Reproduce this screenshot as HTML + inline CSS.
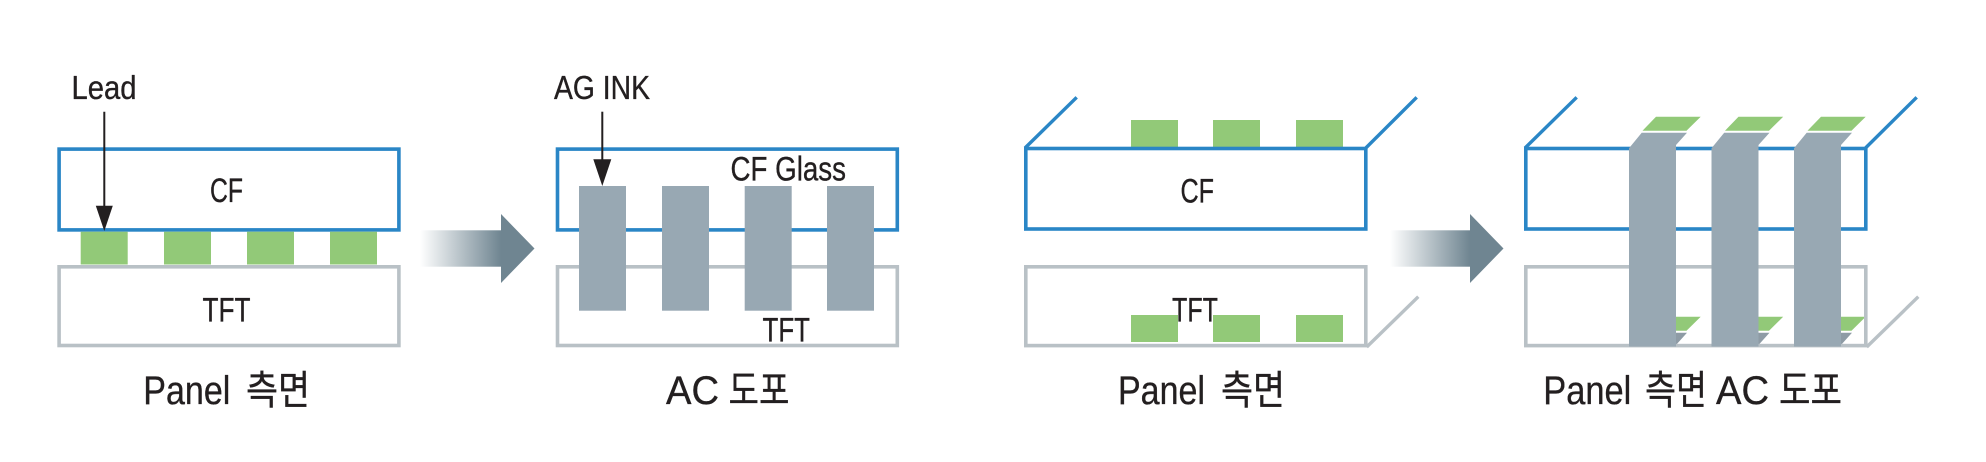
<!DOCTYPE html>
<html>
<head>
<meta charset="utf-8">
<style>
  html,body{margin:0;padding:0;background:#fff;}
  svg{display:block;}
  text{font-family:"Liberation Sans","Noto Sans CJK KR",sans-serif;fill:#231f20;stroke:#231f20;stroke-width:0.35;}
</style>
</head>
<body>
<svg width="1986" height="462" viewBox="0 0 1986 462" xmlns="http://www.w3.org/2000/svg">
  <defs>
    <linearGradient id="g1" x1="420" y1="0" x2="501" y2="0" gradientUnits="userSpaceOnUse">
      <stop offset="0" stop-color="#ffffff"/>
      <stop offset="1" stop-color="#6f8591"/>
    </linearGradient>
    <linearGradient id="g2" x1="1390" y1="0" x2="1470" y2="0" gradientUnits="userSpaceOnUse">
      <stop offset="0" stop-color="#ffffff"/>
      <stop offset="1" stop-color="#6f8591"/>
    </linearGradient>
  </defs>
  <rect width="1986" height="462" fill="#fff"/>

  <!-- ================= PANEL 1 ================= -->
  <rect x="59.1" y="149.1" width="339.8" height="80.8" fill="none" stroke="#2a86c6" stroke-width="3.6"/>
  <rect x="59.1" y="266.8" width="339.8" height="78.7" fill="none" stroke="#b9c1c6" stroke-width="3.6"/>
  <rect x="80.7" y="231.7" width="47" height="32.8" fill="#92c978"/>
  <rect x="164" y="231.7" width="47" height="32.8" fill="#92c978"/>
  <rect x="247" y="231.7" width="47" height="32.8" fill="#92c978"/>
  <rect x="330" y="231.7" width="47" height="32.8" fill="#92c978"/>
  <text x="210" y="202" font-size="34" textLength="33" lengthAdjust="spacingAndGlyphs">CF</text>
  <text x="202.5" y="321.7" font-size="34" textLength="48" lengthAdjust="spacingAndGlyphs">TFT</text>
  <text x="71.5" y="99" font-size="33" textLength="65" lengthAdjust="spacingAndGlyphs">Lead</text>
  <line x1="104.3" y1="111.7" x2="104.3" y2="207" stroke="#231f20" stroke-width="2"/>
  <polygon points="95.8,205.7 112.8,205.7 104.3,231" fill="#231f20"/>
  <text x="143.3" y="404" font-size="40" textLength="87" lengthAdjust="spacingAndGlyphs">Panel</text>
  <text x="246" y="404" font-size="40" textLength="64" lengthAdjust="spacingAndGlyphs">측면</text>

  <!-- Arrow 1 -->
  <rect x="420" y="230.3" width="81.5" height="36.4" fill="url(#g1)"/>
  <polygon points="501,214 534.5,248.5 501,283" fill="#6f8591"/>

  <!-- ================= PANEL 2 ================= -->
  <rect x="557.5" y="149.1" width="339.8" height="80.8" fill="none" stroke="#2a86c6" stroke-width="3.6"/>
  <rect x="557.5" y="266.8" width="339.8" height="78.7" fill="none" stroke="#b9c1c6" stroke-width="3.6"/>
  <rect x="579" y="186" width="47" height="124.7" fill="#98a8b3"/>
  <rect x="662" y="186" width="47" height="124.7" fill="#98a8b3"/>
  <rect x="744.7" y="186" width="47" height="124.7" fill="#98a8b3"/>
  <rect x="827" y="186" width="47" height="124.7" fill="#98a8b3"/>
  <text x="730.5" y="180.7" font-size="34" textLength="115.5" lengthAdjust="spacingAndGlyphs">CF Glass</text>
  <text x="762.5" y="341.7" font-size="34" textLength="47.5" lengthAdjust="spacingAndGlyphs">TFT</text>
  <text x="554" y="99" font-size="33" textLength="96" lengthAdjust="spacingAndGlyphs">AG INK</text>
  <line x1="602.3" y1="111.7" x2="602.3" y2="161" stroke="#231f20" stroke-width="2"/>
  <polygon points="593.3,159.3 611.3,159.3 602.3,186" fill="#231f20"/>
  <text x="666" y="404" font-size="40" textLength="53" lengthAdjust="spacingAndGlyphs">AC</text>
  <text x="728.5" y="404" font-size="40" textLength="61" lengthAdjust="spacingAndGlyphs">도포</text>

  <!-- ================= PANEL 3 ================= -->
  <line x1="1025" y1="148" x2="1076.7" y2="97.3" stroke="#2a86c6" stroke-width="3.4"/>
  <line x1="1365.8" y1="148" x2="1416.7" y2="97.3" stroke="#2a86c6" stroke-width="3.4"/>
  <line x1="1366.7" y1="347" x2="1418.3" y2="296.7" stroke="#b9c1c6" stroke-width="3.4"/>
  <rect x="1131" y="120" width="47" height="27" fill="#92c978"/>
  <rect x="1213" y="120" width="47" height="27" fill="#92c978"/>
  <rect x="1296" y="120" width="47" height="27" fill="#92c978"/>
  <rect x="1131" y="315" width="47" height="27" fill="#92c978"/>
  <rect x="1213" y="315" width="47" height="27" fill="#92c978"/>
  <rect x="1296" y="315" width="47" height="27" fill="#92c978"/>
  <rect x="1025.8" y="148.5" width="340" height="80.5" fill="none" stroke="#2a86c6" stroke-width="3.6"/>
  <rect x="1025.8" y="266.8" width="340" height="78.8" fill="none" stroke="#b9c1c6" stroke-width="3.6"/>
  <text x="1180.5" y="202.5" font-size="34" textLength="33.5" lengthAdjust="spacingAndGlyphs">CF</text>
  <text x="1172" y="321.7" font-size="34" textLength="46" lengthAdjust="spacingAndGlyphs">TFT</text>
  <text x="1118" y="404" font-size="40" textLength="87" lengthAdjust="spacingAndGlyphs">Panel</text>
  <text x="1221" y="404" font-size="40" textLength="64" lengthAdjust="spacingAndGlyphs">측면</text>

  <!-- Arrow 2 -->
  <rect x="1390" y="230.3" width="80.5" height="36.4" fill="url(#g2)"/>
  <polygon points="1470,214 1503.5,248.5 1470,283" fill="#6f8591"/>

  <!-- ================= PANEL 4 ================= -->
  <line x1="1525" y1="148" x2="1576.7" y2="97.3" stroke="#2a86c6" stroke-width="3.4"/>
  <line x1="1865.5" y1="148" x2="1916.7" y2="97.3" stroke="#2a86c6" stroke-width="3.4"/>
  <line x1="1866.7" y1="347" x2="1918.3" y2="296.7" stroke="#b9c1c6" stroke-width="3.4"/>
  <!-- bottom green back pads -->
  <polygon points="1656,316.7 1700.7,316.7 1686.5,330.7 1642.5,330.7" fill="#92c978"/>
  <polygon points="1738.5,316.7 1783.2,316.7 1769,330.7 1725,330.7" fill="#92c978"/>
  <polygon points="1821,316.7 1865.7,316.7 1851.5,330.7 1807.5,330.7" fill="#92c978"/>
  <!-- bottom gray back triangles -->
  <polygon points="1676,332.7 1687,332.7 1676,345" fill="#8e9ba5"/>
  <polygon points="1758.5,332.7 1769.5,332.7 1758.5,345" fill="#8e9ba5"/>
  <polygon points="1841,332.7 1852,332.7 1841,345" fill="#8e9ba5"/>
  <!-- boxes -->
  <rect x="1525.8" y="148.5" width="340" height="80.5" fill="none" stroke="#2a86c6" stroke-width="3.6"/>
  <rect x="1525.8" y="266.8" width="340" height="78.8" fill="none" stroke="#b9c1c6" stroke-width="3.6"/>
  <!-- top green pads -->
  <polygon points="1656,116.7 1700.7,116.7 1686.5,130.7 1642.5,130.7" fill="#92c978"/>
  <polygon points="1738.5,116.7 1783.2,116.7 1769,130.7 1725,130.7" fill="#92c978"/>
  <polygon points="1821,116.7 1865.7,116.7 1851.5,130.7 1807.5,130.7" fill="#92c978"/>
  <!-- bars -->
  <polygon points="1641.7,132.7 1687,132.7 1676,145 1676,346.5 1629,346.5 1629,148.3" fill="#98a8b3"/>
  <polygon points="1724.2,132.7 1769.5,132.7 1758.5,145 1758.5,346.5 1711.5,346.5 1711.5,148.3" fill="#98a8b3"/>
  <polygon points="1806.7,132.7 1852,132.7 1841,145 1841,346.5 1794,346.5 1794,148.3" fill="#98a8b3"/>
  <text x="1543.3" y="404" font-size="40" textLength="88" lengthAdjust="spacingAndGlyphs">Panel</text>
  <text x="1645" y="404" font-size="40" textLength="62" lengthAdjust="spacingAndGlyphs">측면</text>
  <text x="1716" y="404" font-size="40" textLength="53" lengthAdjust="spacingAndGlyphs">AC</text>
  <text x="1779" y="404" font-size="40" textLength="63" lengthAdjust="spacingAndGlyphs">도포</text>
</svg>
</body>
</html>
